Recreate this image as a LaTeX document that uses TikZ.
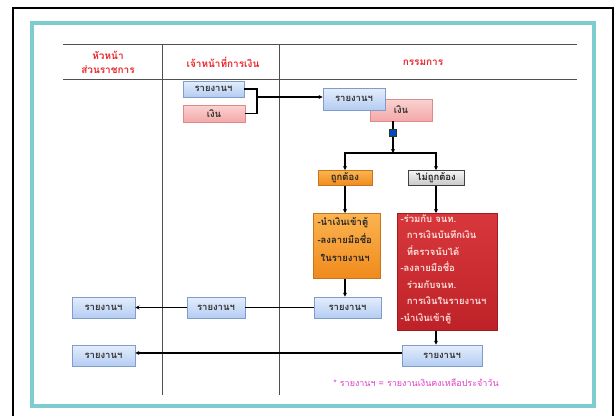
\documentclass[tikz,border=0pt]{standalone}
\usepackage{fontspec}
\newfontfamily\thaifont[Script=Thai]{Loma}
\usetikzlibrary{arrows.meta}
\definecolor{tealfr}{HTML}{7DCDCF}
\definecolor{hdred}{HTML}{E8262A}
\definecolor{bluetop}{HTML}{E4EEFC}
\definecolor{bluebot}{HTML}{B4CCF2}
\definecolor{blueedge}{HTML}{7F9CCB}
\definecolor{pinktop}{HTML}{FAD2D2}
\definecolor{pinkbot}{HTML}{F4A8A8}
\definecolor{pinkedge}{HTML}{DE8A8A}
\definecolor{ortop}{HTML}{FBB450}
\definecolor{orbot}{HTML}{F08A1C}
\definecolor{oredge}{HTML}{C8741E}
\definecolor{redtop}{HTML}{D8383C}
\definecolor{redbot}{HTML}{BE2228}
\definecolor{rededge}{HTML}{A01C20}
\definecolor{redtxt}{HTML}{FBE0DC}
\definecolor{greytop}{HTML}{F4F4F4}
\definecolor{greybot}{HTML}{C8C8C8}
\definecolor{foot}{HTML}{E040C8}
\definecolor{gridln}{HTML}{505050}
\tikzset{
  base/.style={draw, line width=0.8pt, inner sep=1pt, font=\thaifont\bfseries\fontsize{9.5}{10}\selectfont},
  bluebox/.style={base, draw=blueedge, top color=bluetop, bottom color=bluebot, text=black!80},
  pinkbox/.style={base, draw=pinkedge, top color=pinktop, bottom color=pinkbot, text=black!80},
  okbox/.style={base, draw=oredge, top color=ortop, bottom color=orbot, text=black!85},
  nokbox/.style={base, draw=black!75, top color=greytop, bottom color=greybot, text=black!85},
  bigor/.style={base, draw=oredge, top color=ortop, bottom color=orbot, anchor=north west, inner sep=0pt},
  bigred/.style={base, draw=rededge, top color=redtop, bottom color=redbot, anchor=north west, inner sep=0pt},
  hdr/.style={font=\thaifont\bfseries\fontsize{10}{11}\selectfont, text=hdred, align=center},
  conn/.style={line width=1.4pt, black},
  arr/.style={conn, -{Stealth[length=4pt,width=4pt]}},
  gline/.style={line width=0.9pt, gridln}
}
\begin{document}
\begin{tikzpicture}[x=1pt,y=-1pt]
\useasboundingbox (0,0) rectangle (616,416);
\fill[white] (0,0) rectangle (616,416);
% frames
\draw[line width=1.6pt, black] (13,416) -- (13,8) -- (613,8) -- (613,416);
\draw[line width=3.5pt, tealfr] (32,23) rectangle (594,406);
% table grid
\draw[gline] (63,44) -- (577,44);
\draw[gline] (63,79) -- (577,79);
\draw[gline] (162,44) -- (162,395);
\draw[gline] (279,44) -- (279,395);
% headers
\node[hdr] (h1) at (108,62) {หัวหน้า\\[3pt]ส่วนราชการ};
\node[hdr] (h2) at (223,62) {เจ้าหน้าที่การเงิน};
\node[hdr] (h3) at (423,63) {กรรมการ};
% top boxes
\node[bluebox, minimum width=61pt, minimum height=16pt] (r1) at (213.5,89) {รายงานฯ};
\node[pinkbox, minimum width=62pt, minimum height=17pt] (m1) at (214,113.5) {เงิน};
\node[pinkbox, minimum width=62pt, minimum height=22pt] (m2) at (401,110) {\raisebox{-2pt}{เงิน}};
\node[bluebox, minimum width=62pt, minimum height=22pt] (r2) at (354,99) {รายงานฯ};
\coordinate (j1) at (257,97);
\draw[conn] (r1.east) -| (257,97);
\draw[conn] (m1.east) -| (257,97);
\draw[arr] (j1) -- (r2.west |- j1);
% decision
\node[draw=black!80, fill=blue!60!black!70!cyan, line width=0.8pt, minimum size=7pt, inner sep=0pt] (sq) at (393,133) {};
\draw[conn] (m2.south -| sq) -- (sq.north);
\coordinate (b0) at (393,153);
\draw[arr] (sq.south) -- (b0);
\node[okbox, minimum width=54pt, minimum height=15pt] (ok) at (345,178) {ถูกต้อง};
\node[nokbox, minimum width=56pt, minimum height=15pt] (nok) at (436,178) {ไม่ถูกต้อง};
\draw[arr] (b0) -| (ok.north);
\draw[arr] (b0) -| (nok.north);
% big boxes
\node[bigor, minimum width=67pt, minimum height=65pt] (ob) at (313,213) {};
\node[anchor=north west, align=left, font=\thaifont\bfseries\fontsize{9.5}{18}\selectfont, text=black!85] (obt) at (314,214) {-นำเงินเข้าตู้\\-ลงลายมือชื่อ\\\ ในรายงานฯ};
\node[bigred, minimum width=100pt, minimum height=117pt] (rb) at (397,213) {};
\node[anchor=north west, align=left, font=\thaifont\bfseries\fontsize{9.5}{16.5}\selectfont, text=redtxt] (rbt) at (397,211) {-ร่วมกับ จนท.\\\ \ การเงินบันทึกเงิน\\\ \ ที่ตรวจนับได้\\-ลงลายมือชื่อ\\\ \ ร่วมกับจนท.\\\ \ การเงินในรายงานฯ\\-นำเงินเข้าตู้};
\draw[arr] (ok.south) -- (ok.south |- ob.north);
\draw[arr] (nok.south) -- (nok.south |- rb.north);
% row 1
\node[bluebox, minimum width=67pt, minimum height=21pt] (c1) at (347.5,307.5) {รายงานฯ};
\node[bluebox, minimum width=58pt, minimum height=21pt] (f1) at (216,307.5) {รายงานฯ};
\node[bluebox, minimum width=63pt, minimum height=21pt] (l1) at (103.5,307.5) {รายงานฯ};
\draw[arr] (ob.south -| ok.south) -- (c1.north -| ok.south);
\draw[conn] (c1.west) -- (f1.east);
\draw[arr] (f1.west) -- (l1.east);
% row 2
\node[bluebox, minimum width=80pt, minimum height=21pt] (c2) at (442,355.5) {รายงานฯ};
\node[bluebox, minimum width=63pt, minimum height=21pt] (l2) at (103.5,355.5) {รายงานฯ};
\draw[arr] (rb.south -| nok.south) -- (c2.north -| nok.south);
\draw[arr] (c2.west |- 0,353) -- (l2.east |- 0,353);
% footnote
\node[font=\thaifont\fontsize{9}{10}\selectfont, text=foot] (fn) at (416,383) {* รายงานฯ = รายงานเงินคงเหลือประจำวัน};
\end{tikzpicture}
\end{document}
